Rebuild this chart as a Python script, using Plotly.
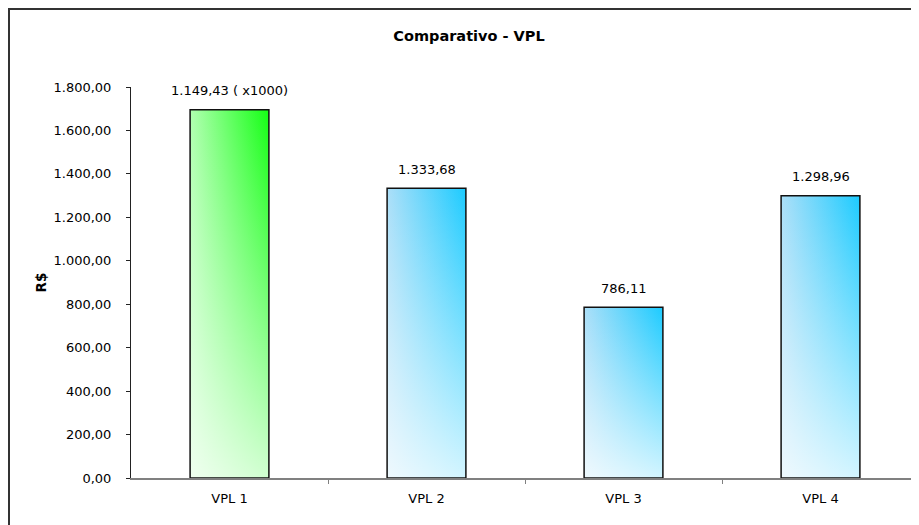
import plotly.graph_objects as go

# data
categories = ["VPL 1", "VPL 2", "VPL 3", "VPL 4"]
values = [1695.0, 1333.68, 786.11, 1298.96]
value_labels = ["1.149,43 ( x1000)", "1.333,68", "786,11", "1.298,96"]
y_ticks = [0, 200, 400, 600, 800, 1000, 1200, 1400, 1600, 1800]

bar_width = 0.4
font_family = "DejaVu Sans"

# left edge -> right edge colours; a white fade is laid over from the bottom
side_colors = {
    "green": ("#b0ffb0", "#14ff14"),
    "blue": ("#acdff8", "#1ccbff"),
}
bar_colors = ["green", "blue", "blue", "blue"]

# the page body adds an 8px offset, so the layout is laid out 8px up/left
L, T, PLOT_W, PLOT_H = 123, 79, 788, 391

fig = go.Figure()

for i, (cat, val) in enumerate(zip(categories, values)):
    xs = [i - bar_width / 2, i + bar_width / 2, i + bar_width / 2, i - bar_width / 2, i - bar_width / 2]
    ys = [0, 0, val, val, 0]
    left, right = side_colors[bar_colors[i]]

    # horizontal colour gradient
    fig.add_trace(go.Scatter(
        x=xs, y=ys,
        mode='lines',
        line=dict(width=0),
        fill='toself',
        fillgradient=dict(type='horizontal', colorscale=[[0, left], [1, right]]),
        hoverinfo='skip',
        showlegend=False
    ))
    # white fade toward the bottom, plus the black outline
    fig.add_trace(go.Scatter(
        x=xs, y=ys,
        mode='lines',
        line=dict(color='#111111', width=1.5),
        fill='toself',
        fillgradient=dict(type='vertical', colorscale=[[0, 'rgba(255,255,255,0.8)'],
                                                       [1, 'rgba(255,255,255,0)']]),
        name=cat,
        hovertemplate=f"{cat}: {value_labels[i]}<extra></extra>",
        showlegend=False
    ))

# value labels above the bars
for i, (val, lab) in enumerate(zip(values, value_labels)):
    fig.add_annotation(
        x=i, y=val, text=lab,
        showarrow=False,
        yanchor='middle', yshift=19,
        font=dict(family=font_family, size=13, color='black')
    )

fig.update_layout(
    width=919,
    height=525,
    plot_bgcolor='white',
    paper_bgcolor='white',
    separators=',.',
    margin=dict(l=L, r=919 - L - PLOT_W, t=T, b=525 - T - PLOT_H),
    title=dict(
        text='<b>Comparativo - VPL</b>',
        x=461 / 919, xref='container', xanchor='center',
        y=1 - 28 / 525, yref='container', yanchor='middle',
        font=dict(family=font_family, size=14.5, color='black')
    ),
    xaxis=dict(
        range=[-0.5, 3.5],
        tickmode='array',
        tickvals=list(range(len(categories))),
        ticktext=categories,
        ticks='outside', ticklen=0,
        showline=True, linecolor='#808080', linewidth=1.5,
        showgrid=False, zeroline=False,
        ticklabelstandoff=8,
        tickfont=dict(family=font_family, size=13, color='black'),
        minor=dict(tickmode='array', tickvals=[0.5, 1.5, 2.5],
                   ticks='outside', ticklen=4, tickcolor='#808080', showgrid=False),
        fixedrange=True
    ),
    yaxis=dict(
        range=[0, 1800],
        tickmode='array',
        tickvals=y_ticks,
        tickformat=',.2f',
        separatethousands=True,
        ticks='outside', ticklen=4, tickcolor='#222222',
        showline=True, linecolor='#222222', linewidth=1,
        showgrid=False, zeroline=False,
        ticklabelstandoff=12,
        tickfont=dict(family=font_family, size=13, color='black'),
        title=dict(text='<b>R$</b>', standoff=3,
                   font=dict(family=font_family, size=13.5, color='black')),
        fixedrange=True
    ),
    shapes=[
        # chart area border (the reference is cropped at right and bottom)
        dict(type='rect', xref='paper', yref='paper',
             x0=(1 - L) / PLOT_W, x1=1.2, y0=-0.3, y1=(T + PLOT_H - 1) / PLOT_H,
             line=dict(color='#333333', width=2), fillcolor='rgba(0,0,0,0)', layer='below')
    ]
)

fig.write_html("out.html")
